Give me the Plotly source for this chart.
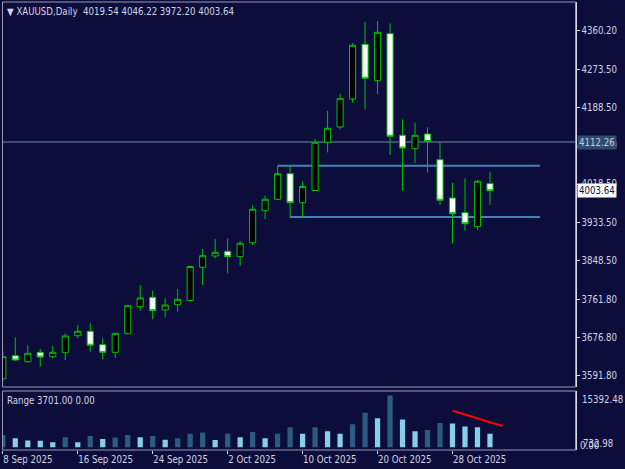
import plotly.graph_objects as go

# ---------------- data ----------------
dates = ["2025-09-08", "2025-09-09", "2025-09-10", "2025-09-11", "2025-09-12",
         "2025-09-15", "2025-09-16", "2025-09-17", "2025-09-18", "2025-09-19",
         "2025-09-22", "2025-09-23", "2025-09-24", "2025-09-25", "2025-09-26",
         "2025-09-29", "2025-09-30", "2025-10-01", "2025-10-02", "2025-10-03",
         "2025-10-06", "2025-10-07", "2025-10-08", "2025-10-09", "2025-10-10",
         "2025-10-13", "2025-10-14", "2025-10-15", "2025-10-16", "2025-10-17",
         "2025-10-20", "2025-10-21", "2025-10-22", "2025-10-23", "2025-10-24",
         "2025-10-27", "2025-10-28", "2025-10-29", "2025-10-30", "2025-10-31"]

opens = [3584.2, 3635.5, 3622.2, 3643.1, 3633.3, 3642.2, 3680.2, 3690.0, 3660.1, 3643.1,
         3684.6, 3744.9, 3765.9, 3737.5, 3749.4, 3758.7, 3832.8, 3858.1, 3868.5, 3856.5,
         3887.7, 3959.2, 3984.6, 4041.7, 3977.0, 4004.2, 4111.8, 4146.0, 4208.5, 4330.5,
         4249.3, 4354.2, 4127.4, 4097.5, 4130.3, 4073.0, 3987.5, 3954.7, 3923.5, 4019.54]
highs = [3646.0, 3676.6, 3658.8, 3650.5, 3657.2, 3685.5, 3704.1, 3707.9, 3674.4, 3686.2,
         3749.4, 3793.3, 3780.6, 3763.7, 3784.4, 3836.4, 3873.7, 3896.0, 3897.6, 3891.5,
         3971.2, 3992.6, 4058.9, 4059.6, 4024.3, 4119.2, 4181.7, 4220.3, 4332.8, 4380.3,
         4382.5, 4377.4, 4163.1, 4155.6, 4145.5, 4110.7, 4021.0, 4031.5, 4027.7, 4046.22]
lows = [3579.1, 3624.0, 3619.9, 3611.0, 3628.8, 3625.9, 3674.4, 3644.5, 3627.5, 3631.1,
        3683.3, 3736.0, 3716.8, 3721.3, 3733.8, 3756.1, 3793.3, 3852.9, 3819.4, 3836.4,
        3882.6, 3940.0, 3983.0, 3944.4, 3945.1, 4003.1, 4089.1, 4140.8, 4200.2, 4185.5,
        4218.9, 4083.5, 4003.8, 4065.6, 4044.4, 3971.9, 3886.4, 3914.5, 3916.1, 3972.20]
closes = [3633.3, 3625.9, 3640.9, 3632.6, 3643.1, 3679.5, 3690.0, 3658.8, 3643.1, 3685.5,
          3747.1, 3764.3, 3736.0, 3748.7, 3761.4, 3834.6, 3858.7, 3866.3, 3856.5, 3886.4,
          3962.3, 3984.6, 4041.7, 3977.0, 4013.2, 4111.8, 4143.1, 4209.1, 4328.3, 4254.7,
          4357.3, 4125.2, 4099.1, 4127.4, 4113.6, 3982.6, 3952.5, 3930.1, 4024.8, 4003.64]

# "Range" indicator histogram
range_vals = [3360, 2460, 1830, 1800, 1370, 2730, 1370, 3090, 2270, 2650,
              3360, 2730, 3090, 2100, 2460, 3740, 4020, 2000, 3740, 2730,
              4180, 2460, 3740, 5470, 3740, 5470, 4370, 3740, 6290, 9480,
              7930, 14130, 7570, 4370, 4730, 6640, 6480, 5660, 5470, 3701]
range_label_vals = [3701.00, 0.00]
range_axis_max = 15392.48
range_axis_min = 732.98

# red trend line on the indicator
trend_x_dates = ["2025-10-28", "2025-11-03"]
trend_x_idx = [36, 40]
trend_y = [10000, 5820]

# horizontal levels (price, start index, end index)
level_prices = [4059.3, 3945.0]
level_start = [22, 23]
level_end = [43, 43]
hline_price = 4112.26

# axis ticks
price_ticks = [4360.20, 4273.50, 4188.50, 4103.50, 4018.50, 3933.50, 3848.50, 3761.80, 3676.80, 3591.80]
date_tick_dates = ["2025-09-08", "2025-09-16", "2025-09-24", "2025-10-02",
                   "2025-10-10", "2025-10-20", "2025-10-28"]
date_tick_labels = ["8 Sep 2025", "16 Sep 2025", "24 Sep 2025", "2 Oct 2025",
                    "10 Oct 2025", "20 Oct 2025", "28 Oct 2025"]

# ---------------- style ----------------
BG = "#0d0d3b"
GREEN = "#00c000"
TXT = "#d4d4e4"
FRAME = "#9a9ab4"
AXLINE = "#d8d8e8"
DARKBAR = "#2d5a80"
LIGHTBAR = "#87ceeb"
FONT = "Tahoma, 'DejaVu Sans Condensed', 'DejaVu Sans', sans-serif"
FS = 9.6

W, H = 625, 469
xi = list(range(len(dates)))
tick_idx = [dates.index(d) for d in date_tick_dates]

# pixel layout
px_left, px_right = 2.5, 575.5
main_top, main_bot = 2, 387
ind_top, ind_bot = 391, 450
xd = [px_left / W, px_right / W]
main_dom = [1 - main_bot / H, 1 - main_top / H]
ind_dom = [1 - ind_bot / H, 1 - ind_top / H]
xrange = [-0.024, 45.846]

bar_colors = [DARKBAR if (i == 0 or range_vals[i] > range_vals[i - 1]) else LIGHTBAR
              for i in range(len(range_vals))]

fig = go.Figure()
fig.add_trace(go.Candlestick(
    x=xi, open=opens, high=highs, low=lows, close=closes,
    xaxis="x", yaxis="y",
    increasing=dict(line=dict(color=GREEN, width=1), fillcolor="#000000"),
    decreasing=dict(line=dict(color=GREEN, width=1), fillcolor="#ffffff"),
    whiskerwidth=0, hoverinfo="skip", showlegend=False))

fig.add_trace(go.Bar(
    x=xi, y=range_vals, xaxis="x2", yaxis="y2", width=0.42,
    marker=dict(color=bar_colors, line=dict(width=0)),
    hoverinfo="skip", showlegend=False))

fig.add_trace(go.Scatter(
    x=trend_x_idx, y=trend_y, xaxis="x2", yaxis="y2", mode="lines",
    line=dict(color="#ff0000", width=2), hoverinfo="skip", showlegend=False))

shapes = []
# current-price style horizontal line
shapes.append(dict(type="line", xref="paper", yref="y", x0=xd[0], x1=xd[1],
                   y0=hline_price, y1=hline_price,
                   line=dict(color="#4e6283", width=1.5), layer="below"))
for p, s, e in zip(level_prices, level_start, level_end):
    shapes.append(dict(type="line", xref="x", yref="y", x0=s, x1=e, y0=p, y1=p,
                       line=dict(color="#4a80b8", width=2), layer="below"))
# window frames
shapes.append(dict(type="rect", xref="paper", yref="paper", x0=xd[0], x1=xd[1],
                   y0=main_dom[0], y1=main_dom[1], line=dict(color=FRAME, width=1)))
shapes.append(dict(type="rect", xref="paper", yref="paper", x0=xd[0], x1=xd[1],
                   y0=ind_dom[0], y1=ind_dom[1], line=dict(color=FRAME, width=1)))

annotations = []
title = "\u25BC XAUUSD,Daily\u00a0\u00a0{:.2f} {:.2f} {:.2f} {:.2f}".format(
    opens[-1], highs[-1], lows[-1], closes[-1])
annotations.append(dict(text=title, xref="paper", yref="paper", x=5 / W, y=1 - 4 / H,
                        xanchor="left", yanchor="top", showarrow=False,
                        font=dict(family=FONT, size=FS, color=TXT)))
annotations.append(dict(text="Range {:.2f} {:.2f}".format(*range_label_vals),
                        xref="paper", yref="paper", x=5 / W, y=1 - 393 / H,
                        xanchor="left", yanchor="top", showarrow=False,
                        font=dict(family=FONT, size=FS, color=TXT)))
# price boxes on the right axis
annotations.append(dict(text="{:.2f}".format(hline_price), xref="paper", yref="y",
                        x=577 / W, y=hline_price, xanchor="left", yanchor="middle",
                        showarrow=False, bgcolor="#2f4c6d", borderpad=1,
                        font=dict(family=FONT, size=FS, color="#c0cce0")))
annotations.append(dict(text="{:.2f}".format(closes[-1]), xref="paper", yref="y",
                        x=577 / W, y=closes[-1], xanchor="left", yanchor="middle",
                        showarrow=False, bgcolor="#ffffff", borderpad=1,
                        font=dict(family=FONT, size=FS, color="#0d0d3b")))
# indicator axis labels
annotations.append(dict(text="{:.2f}".format(range_axis_max), xref="paper", yref="paper",
                        x=580 / W, y=1 - 392 / H, xanchor="left", yanchor="top",
                        showarrow=False, font=dict(family=FONT, size=FS, color=TXT)))
annotations.append(dict(text="0.00", xref="paper", yref="paper",
                        x=578 / W, y=1 - 453 / H, xanchor="left", yanchor="bottom",
                        showarrow=False, font=dict(family=FONT, size=FS, color=TXT)))
annotations.append(dict(text="{:.2f}".format(range_axis_min), xref="paper", yref="paper",
                        x=581 / W, y=1 - 451 / H, xanchor="left", yanchor="bottom",
                        showarrow=False, font=dict(family=FONT, size=FS, color=TXT)))

fig.update_layout(
    width=W, height=H, margin=dict(l=0, r=0, t=0, b=0),
    paper_bgcolor=BG, plot_bgcolor=BG, showlegend=False,
    font=dict(family=FONT, size=FS, color=TXT),
    xaxis=dict(domain=xd, range=xrange, anchor="y", showgrid=False, zeroline=False,
               showticklabels=False, ticks="", showline=False,
               rangeslider=dict(visible=False)),
    yaxis=dict(domain=main_dom, range=[3565.7, 4424.9], anchor="x", side="right",
               tickvals=price_ticks, ticktext=["{:.2f}".format(v) for v in price_ticks],
               ticks="outside", ticklen=3, tickcolor=AXLINE, tickwidth=1,
               showgrid=False, zeroline=False, showline=True, linecolor=AXLINE,
               linewidth=1, tickfont=dict(family=FONT, size=FS, color=TXT)),
    xaxis2=dict(domain=xd, range=xrange, anchor="y2", showgrid=False, zeroline=False,
                tickvals=tick_idx, ticktext=date_tick_labels, ticks="outside", ticklen=3,
                tickcolor=AXLINE, ticklabelposition="outside right", showline=False,
                tickfont=dict(family=FONT, size=FS, color=TXT)),
    yaxis2=dict(domain=ind_dom, range=[-range_axis_min, range_axis_max], anchor="x2",
                side="right", showticklabels=False, ticks="", showgrid=False,
                zeroline=False, showline=True, linecolor=AXLINE, linewidth=1),
    shapes=shapes, annotations=annotations,
)

fig.write_html("out.html")
